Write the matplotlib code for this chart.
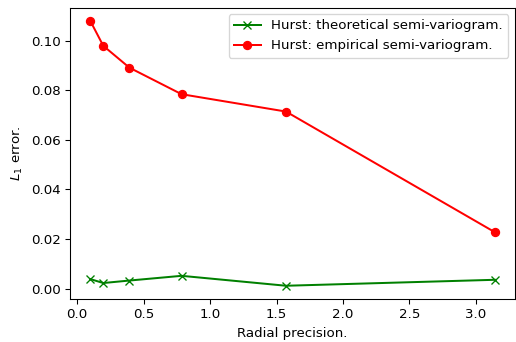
import numpy as np
import matplotlib
matplotlib.use("Agg")
import matplotlib.pyplot as plt

# radial precisions: pi/32 ... pi
precisions = [np.pi / 32, np.pi / 16, np.pi / 8, np.pi / 4, np.pi / 2, np.pi]
err_theoretical = [0.0039, 0.0023, 0.0033, 0.0052, 0.0012, 0.0036]
err_empirical = [0.108, 0.0979, 0.0891, 0.0784, 0.0714, 0.0228]

dpi = 96
fig, ax = plt.subplots(figsize=(516 / dpi, 342 / dpi), dpi=dpi)
fig.subplots_adjust(left=70 / 516, right=515 / 516, top=1 - 7.5 / 342, bottom=1 - 299 / 342)

ax.plot(precisions, err_theoretical, 'x-', color='green', label='Hurst: theoretical semi-variogram.')
ax.plot(precisions, err_empirical, 'o-', color='red', label='Hurst: empirical semi-variogram.')
ax.set_xlabel('Radial precision.')
ax.set_ylabel(r'$L_1$ error.')
ax.legend(loc='upper right')

fig.savefig('out.png', dpi=dpi)
